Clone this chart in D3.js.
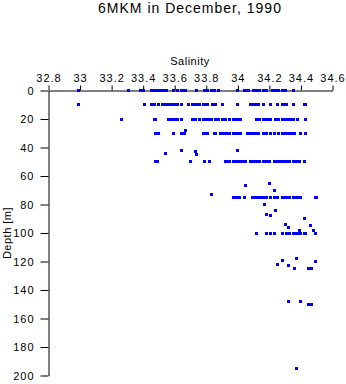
<!DOCTYPE html>
<html>
<head>
<meta charset="utf-8">
<script src="https://cdn.jsdelivr.net/npm/d3@7"></script>
<style>
  html, body { margin: 0; padding: 0; background: #fff; }
  svg { display: block; font-family: "Liberation Sans", Arial, Helvetica, sans-serif; }
</style>
</head>
<body>
<svg id="chart" width="346" height="384"></svg>
<script>
// ---- data ----
const title = "6MKM in December, 1990";
const xLabel = "Salinity";
const yLabel = "Depth [m]";
const xTicks = [32.8, 33.0, 33.2, 33.4, 33.6, 33.8, 34.0, 34.2, 34.4, 34.6];
const yTicks = [0, 20, 40, 60, 80, 100, 120, 140, 160, 180, 200];

const sal0 = [32.99, 33.31, 33.38, 33.40, 33.45, 33.47, 33.49, 33.51, 33.53, 33.55, 33.59, 33.62, 33.64, 33.66, 33.67, 33.74, 33.79, 33.81, 33.83, 33.85, 33.88, 34.00, 34.04, 34.05, 34.07, 34.10, 34.12, 34.14, 34.16, 34.18, 34.22, 34.24, 34.26, 34.28, 34.30, 34.35];
const sal10 = [32.99, 33.41, 33.45, 33.47, 33.50, 33.52, 33.54, 33.56, 33.58, 33.60, 33.62, 33.64, 33.69, 33.71, 33.73, 33.74, 33.76, 33.78, 33.79, 33.81, 33.84, 33.86, 33.90, 34.00, 34.08, 34.10, 34.12, 34.13, 34.16, 34.21, 34.25, 34.28, 34.30, 34.31, 34.35, 34.42, 34.43];
const sal20 = [33.26, 33.47, 33.48, 33.56, 33.58, 33.60, 33.62, 33.64, 33.71, 33.73, 33.76, 33.78, 33.80, 33.82, 33.83, 33.86, 33.88, 33.90, 33.92, 33.95, 33.97, 33.99, 34.01, 34.02, 34.12, 34.14, 34.16, 34.18, 34.19, 34.21, 34.24, 34.26, 34.28, 34.30, 34.32, 34.34, 34.35, 34.38, 34.43];
const sal30 = [33.48, 33.50, 33.59, 33.64, 33.66, 33.78, 33.79, 33.81, 33.85, 33.86, 33.89, 33.91, 33.93, 33.95, 33.97, 33.99, 34.00, 34.02, 34.06, 34.08, 34.10, 34.12, 34.13, 34.16, 34.18, 34.21, 34.23, 34.26, 34.28, 34.30, 34.32, 34.34, 34.36, 34.40, 34.43];
const sal50 = [33.48, 33.49, 33.70, 33.79, 33.82, 33.92, 33.93, 33.95, 33.97, 33.99, 34.01, 34.03, 34.05, 34.08, 34.10, 34.12, 34.14, 34.16, 34.18, 34.20, 34.23, 34.25, 34.27, 34.29, 34.31, 34.33, 34.35, 34.37, 34.39, 34.42];
const sal75 = [33.97, 33.99, 34.01, 34.04, 34.09, 34.11, 34.13, 34.15, 34.17, 34.18, 34.21, 34.23, 34.25, 34.28, 34.30, 34.31, 34.33, 34.35, 34.37, 34.39, 34.40, 34.49, 34.50];
const sal100 = [34.12, 34.18, 34.21, 34.23, 34.28, 34.31, 34.33, 34.35, 34.37, 34.38, 34.40, 34.42, 34.43, 34.49];
const rowDepths = [0, 10, 20, 30, 50, 75, 100];

const otherSal   = [33.67, 33.54, 33.64, 33.73, 33.74, 34.00, 33.83, 34.05, 34.20, 34.23, 34.17, 34.18, 34.24, 34.21, 34.30, 34.32, 34.42, 34.46, 34.48, 34.39, 34.28, 34.25, 34.37, 34.32, 34.36, 34.45, 34.47, 34.49, 34.32, 34.40, 34.45, 34.47, 34.37];
const otherDepth = [28,    44,    42,    43,    45,    42,    73,    67,    65,    70,    80,    87,    84,    88,    94,    96,    90,    95,    98,    98,    119,   122,   118,   122.5, 125,   125,   125,   120,   148,   148,   150,   150,   195];

// ---- build points ----
const rowSal = [sal0, sal10, sal20, sal30, sal50, sal75, sal100];
const points = [];
rowDepths.forEach((d, i) => rowSal[i].forEach(s => points.push({s, d})));
otherSal.forEach((s, i) => points.push({s, d: otherDepth[i]}));

// ---- chart ----
const svg = d3.select("#chart");
const x = d3.scaleLinear().domain([32.8, 34.6]).range([48, 332]);
const y = d3.scaleLinear().domain([0, 200]).range([90, 375]);

svg.append("text")
  .attr("x", 190).attr("y", 13)
  .attr("text-anchor", "middle")
  .attr("font-size", 14).attr("letter-spacing", 1)
  .attr("fill", "#000")
  .text(title);

const fmt = d => String(+d.toFixed(1));

const gx = svg.append("g")
  .attr("transform", "translate(0.5,90.5)")
  .call(d3.axisTop(x).tickValues(xTicks).tickFormat(fmt).tickSize(5).tickSizeOuter(0).tickPadding(4));
gx.selectAll("text").attr("font-size", 11).attr("letter-spacing", 1).attr("fill", "#000");

const gy = svg.append("g")
  .attr("transform", "translate(48.5,0.5)")
  .call(d3.axisLeft(y).tickValues(yTicks).tickSize(8).tickSizeOuter(0).tickPadding(6));
gy.selectAll("text").attr("font-size", 11).attr("letter-spacing", 1).attr("fill", "#000");

svg.selectAll(".domain, .tick line").attr("stroke", "#000").attr("stroke-width", 1);

svg.append("text")
  .attr("x", 190).attr("y", 65)
  .attr("text-anchor", "middle")
  .attr("font-size", 11).attr("letter-spacing", 0.5)
  .text(xLabel);

svg.append("text")
  .attr("transform", "translate(11,233) rotate(-90)")
  .attr("text-anchor", "middle")
  .attr("font-size", 11).attr("letter-spacing", 0.5)
  .text(yLabel);

svg.append("g").selectAll("rect")
  .data(points)
  .join("rect")
  .attr("x", p => Math.round(x(p.s)) - 1)
  .attr("y", p => Math.round(y(p.d)) - 1)
  .attr("width", 3).attr("height", 3)
  .attr("fill", "#0000ff");
</script>
</body>
</html>
